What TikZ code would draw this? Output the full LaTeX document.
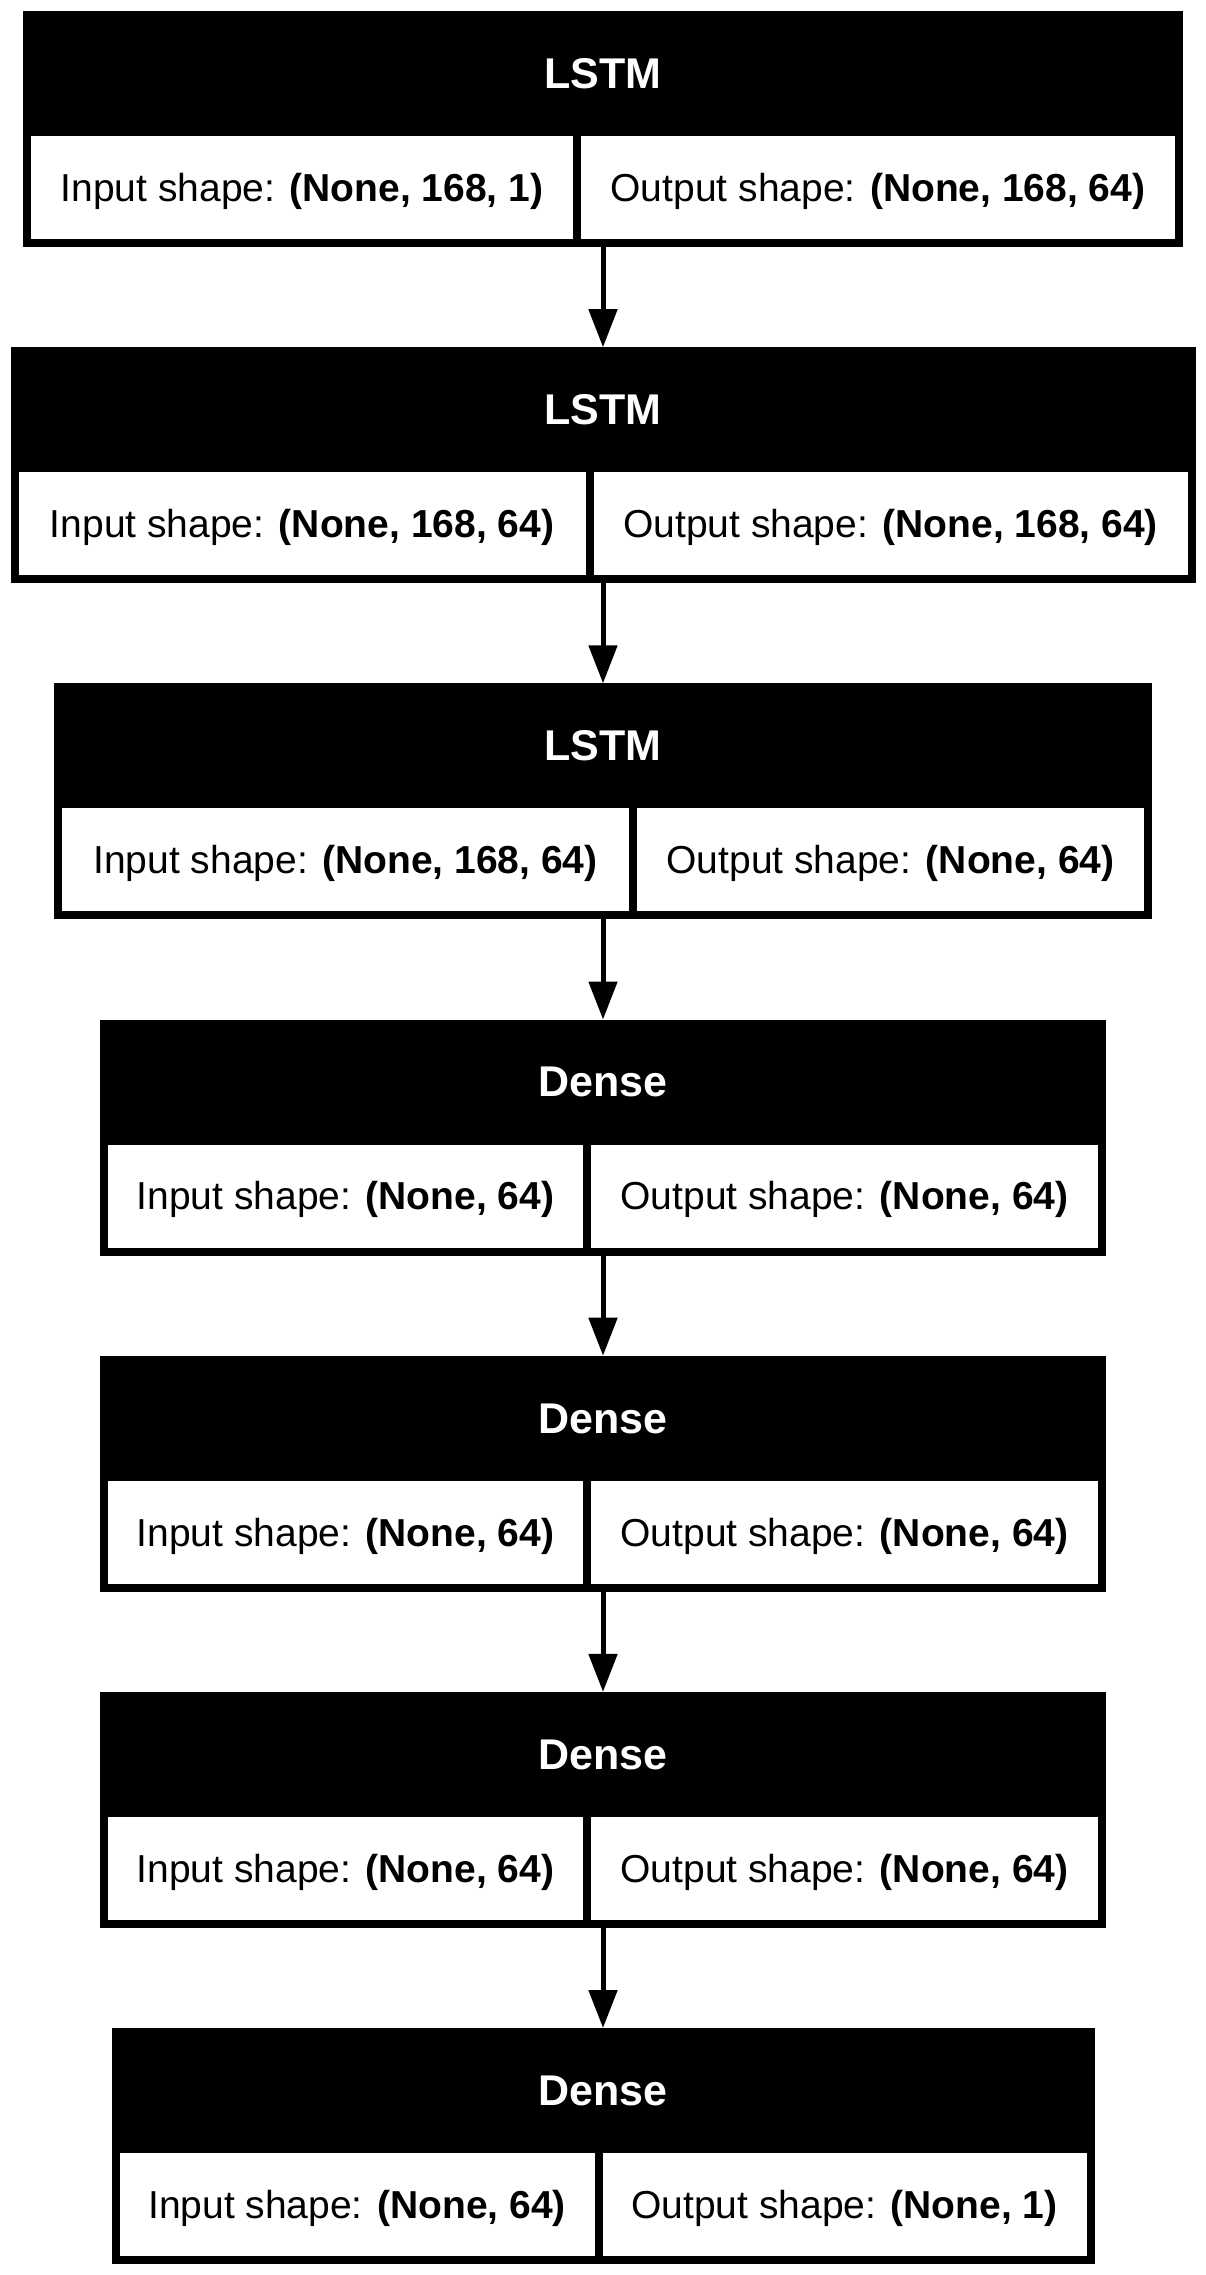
\documentclass[tikz,border=0pt]{standalone}
\usepackage{fontspec}
\setmainfont{Liberation Sans}
\usetikzlibrary{arrows.meta,positioning}

\tikzset{
  layerbox/.style={rectangle, fill=black, inner sep=0pt, outer sep=0pt, minimum height=236pt, anchor=north},
  layertitle/.style={text=white, font=\fontsize{43}{52}\selectfont\bfseries, inner sep=0pt, text height=30.8pt, text depth=0pt},
  shapecell/.style={rectangle, fill=white, inner sep=0pt, outer sep=0pt, minimum height=103pt, font=\fontsize{39}{47}\selectfont, text height=27.9pt, text depth=0pt},
  flow/.style={line width=5pt, -{Triangle[length=38pt, width=28pt]}}
}

\begin{document}
\begin{tikzpicture}[x=1pt, y=1pt]
\useasboundingbox (0,0) rectangle (1206,-2275);

% LSTM layers
\node[layerbox, minimum width=1160pt] (lstmA) at (603,-11) {};
\node[layertitle] (lstmAtitle) at ([yshift=-62pt]lstmA.north) {LSTM};
\node[shapecell, minimum width=542pt, above right=8pt and 8pt of lstmA.south west] (lstmAin) {Input shape: \textbf{(None, 168, 1)}};
\node[shapecell, minimum width=594pt, above left=8pt and 8pt of lstmA.south east] (lstmAout) {Output shape: \textbf{(None, 168, 64)}};

\node[layerbox, minimum width=1185pt] (lstmB) at (603,-347.2) {};
\node[layertitle] (lstmBtitle) at ([yshift=-62pt]lstmB.north) {LSTM};
\node[shapecell, minimum width=567pt, above right=8pt and 8pt of lstmB.south west] (lstmBin) {Input shape: \textbf{(None, 168, 64)}};
\node[shapecell, minimum width=594pt, above left=8pt and 8pt of lstmB.south east] (lstmBout) {Output shape: \textbf{(None, 168, 64)}};

\node[layerbox, minimum width=1098pt] (lstmC) at (603,-683.3) {};
\node[layertitle] (lstmCtitle) at ([yshift=-62pt]lstmC.north) {LSTM};
\node[shapecell, minimum width=567pt, above right=8pt and 8pt of lstmC.south west] (lstmCin) {Input shape: \textbf{(None, 168, 64)}};
\node[shapecell, minimum width=507pt, above left=8pt and 8pt of lstmC.south east] (lstmCout) {Output shape: \textbf{(None, 64)}};

% Dense layers
\node[layerbox, minimum width=1006pt] (denseA) at (603,-1019.5) {};
\node[layertitle] (denseAtitle) at ([yshift=-62pt]denseA.north) {Dense};
\node[shapecell, minimum width=475pt, above right=8pt and 8pt of denseA.south west] (denseAin) {Input shape: \textbf{(None, 64)}};
\node[shapecell, minimum width=507pt, above left=8pt and 8pt of denseA.south east] (denseAout) {Output shape: \textbf{(None, 64)}};

\node[layerbox, minimum width=1006pt] (denseB) at (603,-1355.7) {};
\node[layertitle] (denseBtitle) at ([yshift=-62pt]denseB.north) {Dense};
\node[shapecell, minimum width=475pt, above right=8pt and 8pt of denseB.south west] (denseBin) {Input shape: \textbf{(None, 64)}};
\node[shapecell, minimum width=507pt, above left=8pt and 8pt of denseB.south east] (denseBout) {Output shape: \textbf{(None, 64)}};

\node[layerbox, minimum width=1006pt] (denseC) at (603,-1691.9) {};
\node[layertitle] (denseCtitle) at ([yshift=-62pt]denseC.north) {Dense};
\node[shapecell, minimum width=475pt, above right=8pt and 8pt of denseC.south west] (denseCin) {Input shape: \textbf{(None, 64)}};
\node[shapecell, minimum width=507pt, above left=8pt and 8pt of denseC.south east] (denseCout) {Output shape: \textbf{(None, 64)}};

\node[layerbox, minimum width=983pt] (denseD) at (603,-2028) {};
\node[layertitle] (denseDtitle) at ([yshift=-62pt]denseD.north) {Dense};
\node[shapecell, minimum width=475pt, above right=8pt and 8pt of denseD.south west] (denseDin) {Input shape: \textbf{(None, 64)}};
\node[shapecell, minimum width=484pt, above left=8pt and 8pt of denseD.south east] (denseDout) {Output shape: \textbf{(None, 1)}};

% connectors
\draw[flow] (lstmA.south) -- (lstmB.north);
\draw[flow] (lstmB.south) -- (lstmC.north);
\draw[flow] (lstmC.south) -- (denseA.north);
\draw[flow] (denseA.south) -- (denseB.north);
\draw[flow] (denseB.south) -- (denseC.north);
\draw[flow] (denseC.south) -- (denseD.north);
\end{tikzpicture}
\end{document}
